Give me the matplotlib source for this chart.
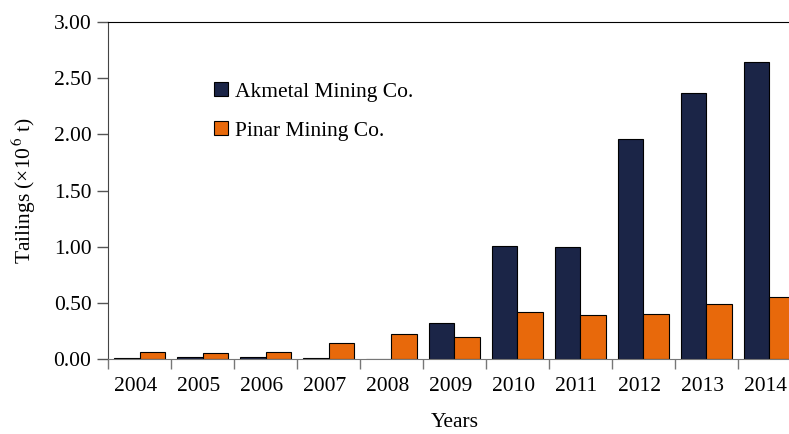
import numpy as np
import matplotlib.pyplot as plt
import matplotlib.transforms as mtransforms
from matplotlib.ticker import FixedLocator

years = ['2004', '2005', '2006', '2007', '2008', '2009', '2010', '2011', '2012', '2013', '2014']
akmetal = [0.01, 0.02, 0.02, 0.005, 0.003, 0.32, 1.01, 1.00, 1.96, 2.37, 2.64]
pinar = [0.06, 0.05, 0.06, 0.14, 0.22, 0.20, 0.42, 0.39, 0.40, 0.49, 0.555]
labels = ['Akmetal Mining Co.', 'Pinar Mining Co.']

plt.rcParams['font.family'] = ['Liberation Serif', 'DejaVu Serif']
plt.rcParams['mathtext.fontset'] = 'stix'

fig = plt.figure(figsize=(7.89, 4.34), dpi=100)
ax = fig.add_axes([0.137, 0.1728, 0.878, 0.7765])

x = np.arange(len(years))
w = 0.4
ax.bar(x - w / 2, akmetal, w, color='#1b2547', edgecolor='black', linewidth=0.8, label=labels[0])
ax.bar(x + w / 2, pinar, w, color='#e8690b', edgecolor='black', linewidth=0.8, label=labels[1])

ax.set_xlim(-0.5, len(years) - 0.5)
ax.set_ylim(0, 3.0)
ax.set_yticks(np.arange(0, 3.01, 0.5))
ax.set_yticklabels(['%.2f' % v for v in np.arange(0, 3.01, 0.5)])
ax.set_xticks(x)
ax.set_xticklabels(years)
ax.xaxis.set_minor_locator(FixedLocator(np.arange(-0.5, len(years), 1.0)))
ax.tick_params(axis='x', which='major', length=0, pad=13, labelsize=15.5)
ax.tick_params(axis='x', which='minor', length=7, width=1, color='#777777', direction='out')
ax.tick_params(axis='y', length=8, width=1, color='#555555', labelsize=15.5, pad=4)

# labels sit a little left of the category centres in the original
shift = mtransforms.ScaledTranslation(-4 / 100, 0, fig.dpi_scale_trans)
for lab in ax.get_xticklabels():
    lab.set_transform(lab.get_transform() + shift)

ax.spines['right'].set_visible(False)
ax.spines['left'].set_color('#444444')
ax.spines['bottom'].set_color('#777777')
ax.spines['top'].set_color('black')

ax.set_xlabel('Years', fontsize=15.5, labelpad=12)
ax.set_ylabel(r'Tailings (×10$^{\,6}$ t)', fontsize=15.5, labelpad=11)

ax.legend(loc='upper left', bbox_to_anchor=(0.125, 0.88), frameon=False, fontsize=15.5,
          handlelength=0.65, handleheight=0.65, handletextpad=0.3, labelspacing=0.9)

fig.savefig('out.png', dpi=100)
